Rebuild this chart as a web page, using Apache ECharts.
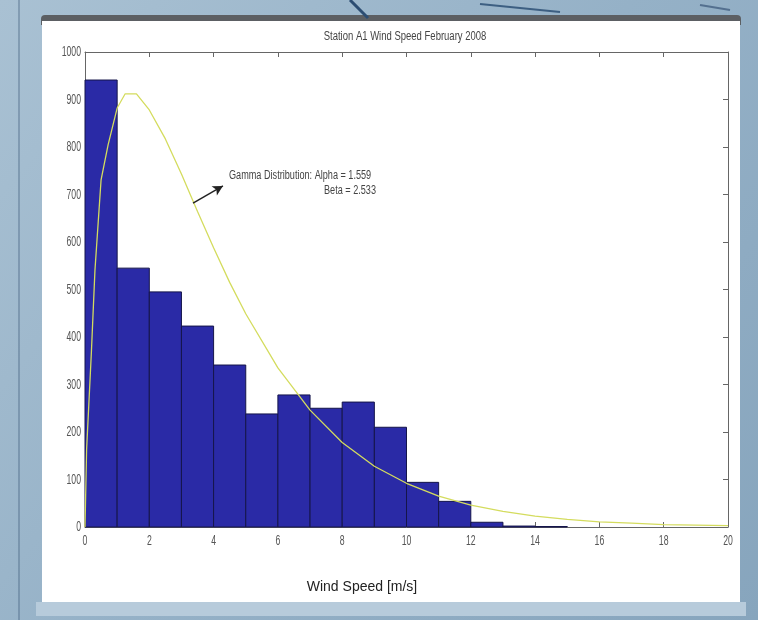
<!DOCTYPE html>
<html>
<head>
<meta charset="utf-8">
<script src="https://cdn.jsdelivr.net/npm/echarts@6/dist/echarts.min.js"></script>
<style>
  html, body { margin: 0; padding: 0; }
  #main { width: 758px; height: 620px; }
</style>
</head>
<body>
<div id="main"></div>
<script>
// histogram: bins of 1 m/s, left edges and counts
const binWidth = 1;
const binStart = [0, 1, 2, 3, 4, 5, 6, 7, 8, 9, 10, 11, 12, 13, 14];
const binCount = [941, 545, 495, 423, 341, 238, 278, 250, 263, 210, 94, 54, 10, 2, 1];

// fitted gamma curve
const curveX = [0, 0.05, 0.2, 0.31, 0.5, 0.72, 1, 1.25, 1.6, 2, 2.5, 3, 3.5, 4, 4.5, 5, 6, 7, 8, 9, 10, 11, 12, 13, 14, 15, 16, 17, 18, 19, 20];
const curveY = [0, 163, 370, 541, 731, 805, 882, 912, 912, 878, 817, 743, 664, 588, 515, 449, 335, 246, 178, 128, 92, 65, 46, 33, 23, 16, 11, 8, 5, 4, 3];

// tick labels
const xTicks = [0, 2, 4, 6, 8, 10, 12, 14, 16, 18, 20];
const yTicks = [0, 100, 200, 300, 400, 500, 600, 700, 800, 900, 1000];

// annotation arrow (data units)
const arrowFrom = [3.36, 682];
const arrowTo = [4.29, 718];

const sans = "'Liberation Sans', Arial, sans-serif";

const chart = echarts.init(document.getElementById('main'));

const axisLine = { show: true, onZero: false, lineStyle: { color: '#666', width: 1 } };
const tick = { show: true, inside: true, length: 5, lineStyle: { color: '#666' } };

// narrow matlab-like labels: squeezed text
function narrowText(text, x, y, align, size, sx, color) {
  return {
    type: 'text', x: x, y: y, scaleX: sx,
    style: { text: text, fill: color, fontSize: size, fontFamily: sans, textAlign: align, textVerticalAlign: 'middle' }
  };
}

const option = {
  animation: false,
  backgroundColor: {
    type: 'linear', x: 0, y: 0, x2: 1, y2: 1,
    colorStops: [
      { offset: 0, color: '#a9c1d3' },
      { offset: 0.5, color: '#95b1c7' },
      { offset: 1, color: '#87a5bd' }
    ]
  },
  graphic: [
    { type: 'rect', z: -5, shape: { x: 18, y: 0, width: 2, height: 620 }, style: { fill: 'rgba(60,90,120,0.35)' } },
    { type: 'rect', z: -5, shape: { x: 36, y: 602, width: 710, height: 14 }, style: { fill: '#b7cbdb' } },
    { type: 'rect', z: -5, shape: { x: 41, y: 15, width: 700, height: 10, r: [4, 4, 0, 0] }, style: { fill: '#5c5f63' } },
    { type: 'rect', z: -4, shape: { x: 42, y: 21, width: 698, height: 581 }, style: { fill: '#ffffff' } },
    { type: 'polyline', z: -5, shape: { points: [[350, 0], [368, 18]] }, style: { stroke: '#2c4d72', lineWidth: 3 } },
    { type: 'polyline', z: -5, shape: { points: [[480, 4], [560, 12]] }, style: { stroke: '#3d5f82', lineWidth: 2 } },
    { type: 'polyline', z: -5, shape: { points: [[700, 5], [730, 10]] }, style: { stroke: '#54708f', lineWidth: 2 } },
    Object.assign(narrowText('Station A1 Wind Speed February 2008', 405, 37, 'center', 12.5, 0.76, '#444'), { z: 10 }),
    Object.assign(narrowText('Gamma Distribution: Alpha = 1.559', 229, 176, 'left', 12, 0.76, '#444'), { z: 10 }),
    Object.assign(narrowText('Beta = 2.533', 376, 191, 'right', 12, 0.76, '#444'), { z: 10 }),
    {
      type: 'text', z: 10, x: 362, y: 587,
      style: { text: 'Wind Speed [m/s]', fill: '#222', fontSize: 14, fontFamily: sans, textAlign: 'center', textVerticalAlign: 'middle' }
    }
  ],
  grid: { left: 85, right: 30, top: 52, bottom: 93, show: false },
  xAxis: [
    {
      type: 'value', position: 'bottom', min: 0, max: 20, interval: 2,
      axisLine, axisTick: tick, splitLine: { show: false }, axisLabel: { show: false }
    },
    {
      type: 'value', position: 'top', min: 0, max: 20, interval: 2,
      axisLine, axisTick: tick, splitLine: { show: false }, axisLabel: { show: false }
    }
  ],
  yAxis: [
    {
      type: 'value', position: 'left', min: 0, max: 1000, interval: 100,
      axisLine, axisTick: tick, splitLine: { show: false }, axisLabel: { show: false }
    },
    {
      type: 'value', position: 'right', min: 0, max: 1000, interval: 100,
      axisLine, axisTick: tick, splitLine: { show: false }, axisLabel: { show: false }
    }
  ],
  series: [
    {
      type: 'custom',
      xAxisIndex: 0, yAxisIndex: 0,
      data: binStart.map((s, i) => [s, binCount[i]]),
      encode: { x: 0, y: 1 },
      renderItem(params, api) {
        const x0 = api.value(0);
        const h = api.value(1);
        const p0 = api.coord([x0, h]);
        const p1 = api.coord([x0 + binWidth, 0]);
        return {
          type: 'rect',
          shape: { x: p0[0], y: p0[1], width: p1[0] - p0[0], height: p1[1] - p0[1] },
          style: { fill: '#2a2aa6', stroke: '#15154a', lineWidth: 1 }
        };
      },
      z: 2
    },
    {
      type: 'line',
      xAxisIndex: 0, yAxisIndex: 0,
      data: curveX.map((x, i) => [x, curveY[i]]),
      showSymbol: false,
      lineStyle: { color: '#d4dc5e', width: 1.3 },
      z: 3,
      markLine: {
        silent: true,
        symbol: ['none', 'arrow'],
        symbolSize: [8, 10],
        label: { show: false },
        lineStyle: { color: '#222', width: 1.5, type: 'solid' },
        data: [[{ coord: arrowFrom }, { coord: arrowTo }]]
      }
    },
    {
      // y tick labels
      type: 'custom', silent: true, z: 10,
      xAxisIndex: 0, yAxisIndex: 0,
      data: yTicks.map(v => [0, v]),
      encode: { x: 0, y: 1 },
      renderItem(params, api) {
        const p = api.coord([api.value(0), api.value(1)]);
        return narrowText(String(api.value(1)), p[0] - 4, p[1], 'right', 15, 0.58, '#555');
      }
    },
    {
      // x tick labels
      type: 'custom', silent: true, z: 10,
      xAxisIndex: 0, yAxisIndex: 0,
      data: xTicks.map(v => [v, 0]),
      encode: { x: 0, y: 1 },
      renderItem(params, api) {
        const p = api.coord([api.value(0), api.value(1)]);
        return narrowText(String(api.value(0)), p[0], p[1] + 14, 'center', 15, 0.58, '#555');
      }
    }
  ]
};

chart.setOption(option);
</script>
</body>
</html>
